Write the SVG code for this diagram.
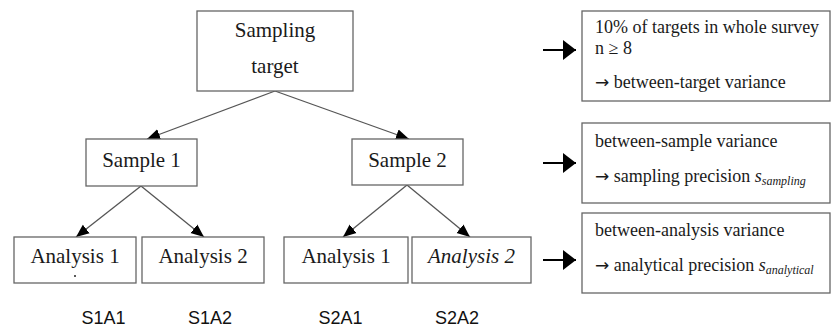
<svg xmlns="http://www.w3.org/2000/svg" width="831" height="327" viewBox="0 0 831 327">
<style>
.box{fill:#fff;stroke:#666;stroke-width:1.3}
.t{font-family:"Liberation Serif","Times New Roman",serif;fill:#1a1a1a}
.n{font-size:21px;text-anchor:middle}
.r{font-size:18px}
.ar{font-family:"DejaVu Sans",sans-serif;font-size:17px}
.lab{font-family:"Liberation Sans",Arial,sans-serif;font-size:18px;fill:#111;text-anchor:middle}
.con{stroke:#555;stroke-width:1.3;fill:none;marker-end:url(#ah)}
.side{stroke:#000;stroke-width:2;fill:none;marker-end:url(#bh)}
</style>
<defs>
<marker id="ah" markerUnits="userSpaceOnUse" markerWidth="14" markerHeight="14" viewBox="0 0 14 14" refX="13" refY="7" orient="auto">
<path d="M0,1.5 L13,7 L0,12.5 Z" fill="#000"/>
</marker>
<marker id="bh" markerUnits="userSpaceOnUse" markerWidth="14" markerHeight="20" viewBox="0 0 14 20" refX="13" refY="10" orient="auto">
<path d="M0,0 L13,10 L0,20 Z" fill="#000"/>
</marker>
</defs>
<rect width="831" height="327" fill="#fff"/>
<g id="connectors">
<line class="con" x1="275" y1="91" x2="147" y2="139"/>
<line class="con" x1="275" y1="91" x2="409" y2="139"/>
<line class="con" x1="141" y1="186" x2="76" y2="237"/>
<line class="con" x1="141" y1="186" x2="204" y2="237"/>
<line class="con" x1="407" y1="185" x2="343" y2="237"/>
<line class="con" x1="407" y1="185" x2="470" y2="237"/>
<line class="side" x1="543" y1="50" x2="576" y2="50"/>
<line class="side" x1="543" y1="163" x2="576" y2="163"/>
<line class="side" x1="543" y1="260" x2="576" y2="260"/>
</g>
<g id="sampling-target">
<rect class="box" x="197" y="11" width="156" height="80"/>
<text class="t n" x="275" y="37">Sampling</text>
<text class="t n" x="275" y="73">target</text>
</g>
<g id="sample1">
<rect class="box" x="86" y="139" width="111" height="47"/>
<text class="t n" x="141.5" y="167">Sample 1</text>
</g>
<g id="sample2">
<rect class="box" x="352" y="139" width="111" height="46"/>
<text class="t n" x="407.5" y="167">Sample 2</text>
</g>
<g id="s1a1">
<rect class="box" x="14" y="237" width="122" height="46"/>
<text class="t n" x="75" y="263">Analysis 1</text>
<circle cx="75" cy="276" r="1" fill="#222"/>
</g>
<g id="s1a2">
<rect class="box" x="142" y="237" width="122" height="46"/>
<text class="t n" x="203" y="263">Analysis 2</text>
</g>
<g id="s2a1">
<rect class="box" x="284" y="237" width="124" height="46"/>
<text class="t n" x="346" y="263">Analysis 1</text>
</g>
<g id="s2a2">
<rect class="box" x="412" y="237" width="119" height="46"/>
<text class="t n" x="471.5" y="263" font-style="italic">Analysis 2</text>
</g>
<g id="labels">
<text class="lab" x="103.5" y="324">S1A1</text>
<text class="lab" x="210" y="324">S1A2</text>
<text class="lab" x="340.5" y="324">S2A1</text>
<text class="lab" x="457" y="324">S2A2</text>
</g>
<g id="note-target">
<rect class="box" x="582" y="11" width="248" height="90"/>
<text class="t r" x="595" y="33">10% of targets in whole survey</text>
<text class="t r" x="595" y="54">n ≥ 8</text>
<text class="t r" x="595" y="88"><tspan class="ar">→</tspan> between-target variance</text>
</g>
<g id="note-sample">
<rect class="box" x="582" y="123" width="248" height="80"/>
<text class="t r" x="595" y="147">between-sample variance</text>
<text class="t r" x="595" y="182"><tspan class="ar">→</tspan> sampling precision <tspan font-style="italic">s</tspan><tspan font-style="italic" font-size="12" dy="3">sampling</tspan></text>
</g>
<g id="note-analysis">
<rect class="box" x="582" y="213" width="248" height="80"/>
<text class="t r" x="595" y="236">between-analysis variance</text>
<text class="t r" x="595" y="271"><tspan class="ar">→</tspan> analytical precision <tspan font-style="italic">s</tspan><tspan font-style="italic" font-size="12" dy="3">analytical</tspan></text>
</g>
</svg>
